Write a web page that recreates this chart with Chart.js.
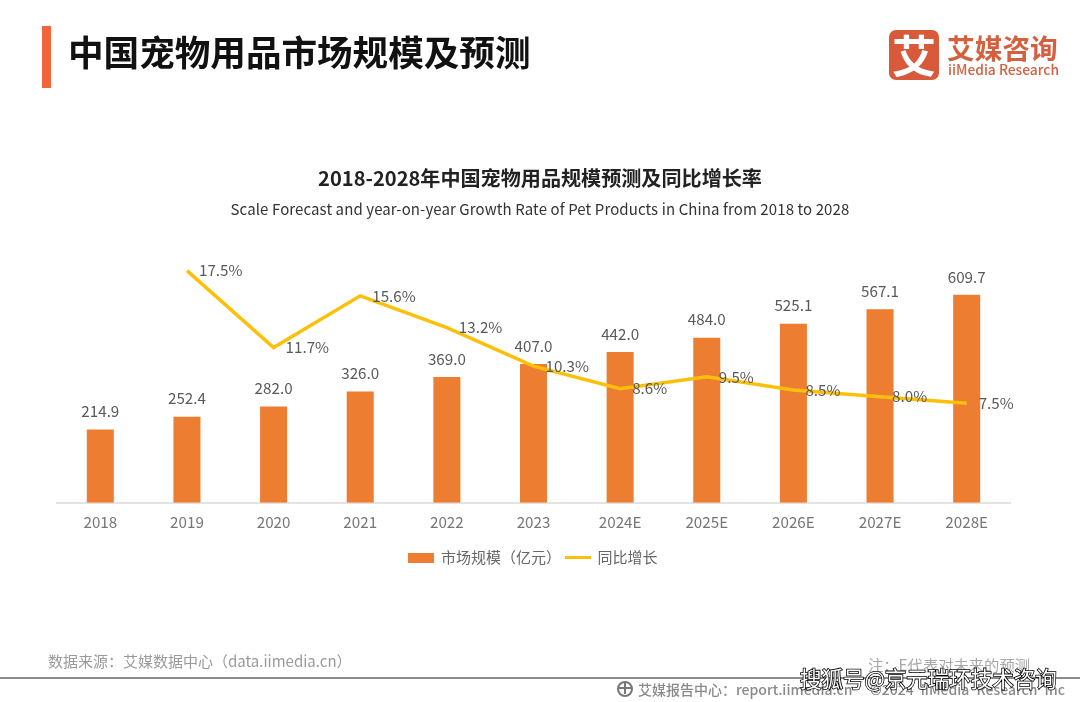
<!DOCTYPE html>
<html>
<head>
<meta charset="utf-8">
<script src="https://cdn.jsdelivr.net/npm/chart.js@4"></script>
<style>
html, body { margin: 0; padding: 0; background: #fff; }
#page { position: relative; width: 1080px; height: 702px; overflow: hidden; font-family: "Noto Sans CJK SC", "Noto Sans", sans-serif; }
#page div { position: absolute; white-space: nowrap; line-height: 1; }
canvas { position: absolute; left: 0; top: 0; }
</style>
</head>
<body>
<div id="page">
  <canvas id="dashboard" width="1080" height="702"></canvas>
  <div style="left:42px;top:26px;width:9px;height:62px;background:#f4643a"></div>
  <div style="left:68px;top:33px;font-size:35.6px;font-weight:700;color:#111">中国宠物用品市场规模及预测</div>
  <div style="left:0;width:1080px;text-align:center;top:168px;font-size:20.1px;font-weight:700;color:#222">2018-2028年中国宠物用品规模预测及同比增长率</div>
  <div style="left:0;width:1080px;text-align:center;top:201px;font-size:15px;color:#333;letter-spacing:.1px">Scale Forecast and year-on-year Growth Rate of Pet Products in China from 2018 to 2028</div>

  <div style="left:889px;top:30px;width:50px;height:50px;border-radius:7px;background:#d9593b;color:#fff;font-size:44px;font-weight:700;text-align:center;line-height:48px">艾</div>
  <div style="left:947px;top:34px;font-size:27.7px;font-weight:700;color:#d4603f">艾媒咨询</div>
  <div style="left:948px;top:63px;font-size:13.8px;font-weight:500;color:#d4603f">iiMedia Research</div>

  <div style="left:48px;top:653px;font-size:15px;color:#9a9a9a">数据来源：艾媒数据中心（data.iimedia.cn）</div>
  <div style="left:868px;top:657px;font-size:15.3px;color:#a8a8a8">注：E代表对未来的预测</div>
  <div style="left:0;top:677px;width:1080px;height:2px;background:#8c8c8c"></div>
  <div style="left:617px;top:681px;width:12px;height:12px;border:2px solid #777;border-radius:50%"></div>
  <div style="left:624px;top:682px;width:2px;height:12px;background:#777"></div>
  <div style="left:618px;top:687px;width:14px;height:2px;background:#777"></div>
  <div style="left:638px;top:682px;font-size:14px;font-weight:500;color:#8a8a8a">艾媒报告中心：report.iimedia.cn</div>
  <div style="left:870px;top:682px;font-size:14px;font-weight:500;color:#8a8a8a;word-spacing:4px">©2024 iiMedia Research Inc</div>
  <div style="left:800px;top:667px;font-size:21.5px;color:#fff;-webkit-text-stroke:1.6px #000;paint-order:stroke fill">搜狐号@京元瑞环技术咨询</div>
</div>
<script>
const categories = ['2018', '2019', '2020', '2021', '2022', '2023', '2024E', '2025E', '2026E', '2027E', '2028E'];
const marketSize = [214.9, 252.4, 282.0, 326.0, 369.0, 407.0, 442.0, 484.0, 525.1, 567.1, 609.7];
const growthRate = [null, 17.5, 11.7, 15.6, 13.2, 10.3, 8.6, 9.5, 8.5, 8.0, 7.5];
const seriesNames = ['市场规模（亿元）', '同比增长'];

const Orange = '#ed7d31';
const Yellow = '#fcc00a';
const Font = '"Noto Sans CJK SC", "Noto Sans", sans-serif';

function legendMark(w, h, color) {
    const c = document.createElement('canvas');
    c.width = w;
    c.height = h;
    const g = c.getContext('2d');
    g.fillStyle = color;
    g.fillRect(0, 0, w, h);
    return c;
}

// value labels, bars above and line to the right
const valueLabels = {
    id: 'valueLabels',
    afterDatasetsDraw(chart) {
        const ctx = chart.ctx;
        ctx.save();
        ctx.font = '15.2px ' + Font;
        ctx.fillStyle = '#595959';
        ctx.textBaseline = 'middle';
        ctx.textAlign = 'center';
        chart.getDatasetMeta(0).data.forEach((bar, i) => {
            ctx.fillText(marketSize[i].toFixed(1), bar.x, bar.y - 18);
        });
        ctx.textAlign = 'left';
        chart.getDatasetMeta(1).data.forEach((pt, i) => {
            if (growthRate[i] === null) return;
            ctx.fillText(growthRate[i].toFixed(1) + '%', pt.x + 12, pt.y);
        });
        ctx.restore();
    }
};

new Chart(document.getElementById('dashboard'), {
    type: 'bar',
    data: {
        labels: categories,
        datasets: [{
            label: seriesNames[0],
            data: marketSize,
            yAxisID: 'y',
            backgroundColor: Orange,
            borderWidth: 0,
            barPercentage: 1,
            categoryPercentage: 0.312,
            order: 2
        }, {
            type: 'line',
            label: seriesNames[1],
            data: growthRate,
            yAxisID: 'y2',
            borderColor: Yellow,
            backgroundColor: Yellow,
            borderWidth: 3.5,
            pointRadius: 0,
            tension: 0,
            order: 1
        }]
    },
    plugins: [valueLabels],
    options: {
        responsive: false,
        animation: false,
        layout: { padding: { left: 57, right: 70, top: 264, bottom: 127 } },
        plugins: {
            tooltip: { enabled: false },
            legend: {
                position: 'bottom',
                labels: {
                    usePointStyle: true,
                    pointStyleWidth: 24,
                    padding: 5,
                    color: '#666',
                    font: { size: 15, family: Font },
                    generateLabels() {
                        return [
                            { text: seriesNames[0], pointStyle: legendMark(26, 10, Orange), datasetIndex: 0, fontColor: '#666', lineWidth: 0 },
                            { text: seriesNames[1], pointStyle: legendMark(26, 3, Yellow), datasetIndex: 1, fontColor: '#666', lineWidth: 0 }
                        ];
                    }
                }
            }
        },
        scales: {
            x: {
                grid: { display: false, drawTicks: false },
                border: { color: '#e3e3e3', width: 2 },
                ticks: { color: '#767676', padding: 10, font: { size: 15.2, family: Font }, maxRotation: 0 },
                afterFit(scale) { scale.height += 4; }
            },
            y: { display: false, min: 0, max: 700 },
            y2: { display: false, min: 0, max: 18 }
        }
    }
});
</script>
</body>
</html>
